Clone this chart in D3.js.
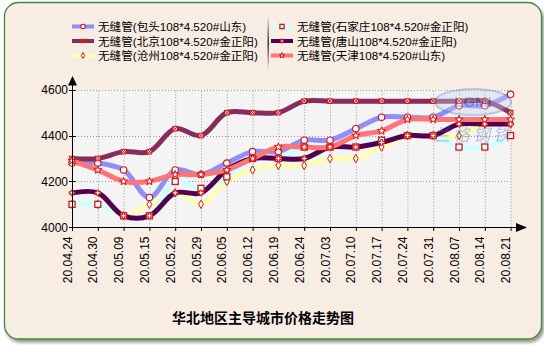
<!DOCTYPE html>
<html><head><meta charset="utf-8">
<script src="https://cdn.jsdelivr.net/npm/d3@7/dist/d3.min.js"></script>
<style>html,body{margin:0;padding:0;background:#fff;}svg{display:block;}</style>
</head><body>
<svg id="c" width="544" height="345"></svg>
<script>
const dates = ["20.04.24","20.04.30","20.05.09","20.05.15","20.05.22","20.05.29","20.06.05","20.06.12","20.06.19","20.06.24","20.07.03","20.07.10","20.07.17","20.07.24","20.07.31","20.08.07","20.08.14","20.08.21"];
const yTicks = [4000, 4200, 4400, 4600];
const seriesNames = ["无缝管(包头108*4.520#山东)","无缝管(北京108*4.520#金正阳)","无缝管(沧州108*4.520#金正阳)","无缝管(石家庄108*4.520#金正阳)","无缝管(唐山108*4.520#金正阳)","无缝管(天津108*4.520#山东)"];
const baotou       = [4280,4280,4250,4130,4250,4230,4280,4330,4330,4380,4380,4430,4480,4480,4480,4530,4530,4580];
const beijing      = [4300,4300,4330,4330,4430,4400,4500,4500,4500,4550,4550,4550,4550,4550,4550,4550,4550,4500];
const cangzhou     = [4100,4100,4050,4100,4150,4100,4200,4250,4270,4270,4300,4300,4350,4400,4400,4400,4450,4450];
const shijiazhuang = [4100,4100,4050,4050,4200,4170,4220,4300,4300,4350,4350,4350,4380,4400,4400,4350,4350,4400];
const tangshan     = [4150,4150,4050,4050,4150,4150,4250,4300,4300,4300,4350,4350,4370,4400,4400,4450,4450,4450];
const tianjin      = [4290,4250,4200,4200,4230,4230,4250,4300,4350,4350,4350,4400,4420,4470,4470,4470,4470,4470];
const title = "华北地区主导城市价格走势图";

const styles = [
  {color:"#8e8eff", marker:"circle"},
  {color:"#862d5c", marker:"boxx"},
  {color:"#ffffb4", marker:"diamond"},
  {color:"#ccffff", marker:"square"},
  {color:"#52004f", marker:"cross"},
  {color:"#ff7575", marker:"star"}
];
const values = [baotou, beijing, cangzhou, shijiazhuang, tangshan, tianjin];

const svg = d3.select("#c");
const defs = svg.append("defs");
const f = defs.append("filter").attr("id","sh").attr("x","-5%").attr("y","-5%").attr("width","112%").attr("height","115%");
f.append("feDropShadow").attr("dx",2).attr("dy",3).attr("stdDeviation",1.5).attr("flood-color","#555").attr("flood-opacity",0.6);
const lg = defs.append("linearGradient").attr("id","sep").attr("x1",0).attr("x2",0).attr("y1",0).attr("y2",1);
lg.append("stop").attr("offset","0%").attr("stop-color","#f8ede3");
lg.append("stop").attr("offset","50%").attr("stop-color","#333");
lg.append("stop").attr("offset","100%").attr("stop-color","#f8ede3");

svg.append("rect").attr("x",4.5).attr("y",2.5).attr("width",537).attr("height",336.5).attr("rx",14)
  .attr("fill","#f8ede3").attr("stroke","#3e8a3a").attr("stroke-width",1.3).attr("filter","url(#sh)");

const x = d3.scalePoint().domain(dates).range([72, 510.6]);
const y = d3.scaleLinear().domain([4000, 4600]).range([227.3, 89.7]);

// plot bg
svg.append("rect").attr("x",72).attr("y",y(4600)).attr("width",x(dates[dates.length-1])-72).attr("height",y(4000)-y(4600)).attr("fill","#f4f4f4");

// grid
const grid = svg.append("g").attr("stroke","#999").attr("stroke-width",1).attr("stroke-dasharray","1,2");
dates.forEach((d,i)=>{ if(i>0) grid.append("line").attr("x1",x(d)+0.5).attr("x2",x(d)+0.5).attr("y1",y(4000)).attr("y2",y(4600)); });
yTicks.forEach(t=>{ if(t>4000) grid.append("line").attr("x1",72).attr("x2",x(dates[dates.length-1])).attr("y1",Math.round(y(t))+0.5).attr("y2",Math.round(y(t))+0.5); });

// lines
const line = d3.line().x((d,i)=>x(dates[i])).y(d=>y(d)).curve(d3.curveCatmullRom.alpha(0.5));
values.forEach((vals,k)=>{
  svg.append("path").datum(vals).attr("d",line).attr("fill","none").attr("stroke",styles[k].color)
    .attr("stroke-width",5).attr("stroke-linejoin","round").attr("stroke-linecap","round");
});

function marker(g, type, cx, cy, s){
  s = s || 1;
  const red = "#dd1111";
  if(type==="circle") g.append("circle").attr("cx",cx).attr("cy",cy).attr("r",3.2*s).attr("fill","#fff").attr("stroke",red).attr("stroke-width",1.1);
  else if(type==="square") g.append("rect").attr("x",cx-3*s).attr("y",cy-3*s).attr("width",6*s).attr("height",6*s).attr("fill","#fff").attr("stroke",red).attr("stroke-width",1.3);
  else if(type==="boxx"){
    const h = 2.3*s;
    g.append("rect").attr("x",cx-h).attr("y",cy-h).attr("width",2*h).attr("height",2*h).attr("fill","#fff").attr("stroke",red).attr("stroke-width",1);
    g.append("path").attr("d",`M${cx-h},${cy-h}L${cx+h},${cy+h}M${cx+h},${cy-h}L${cx-h},${cy+h}`).attr("stroke",red).attr("stroke-width",1);
  }
  else if(type==="diamond") g.append("path").attr("d",d3.symbol(d3.symbolDiamond,20*s*s)()).attr("transform",`translate(${cx},${cy})`).attr("fill","#fff").attr("stroke",red).attr("stroke-width",1);
  else if(type==="cross") g.append("path").attr("d",d3.symbol(d3.symbolCross,18*s*s)()).attr("transform",`translate(${cx},${cy})`).attr("fill","#fff").attr("stroke",red).attr("stroke-width",1);
  else if(type==="star") g.append("path").attr("d",d3.symbol(d3.symbolStar,20*s*s)()).attr("transform",`translate(${cx},${cy})`).attr("fill","#fff").attr("stroke",red).attr("stroke-width",1);
}
const mg = svg.append("g");
values.forEach((vals,k)=>{ vals.forEach((v,i)=>marker(mg, styles[k].marker, x(dates[i]), y(v))); });

// watermark
const wm = svg.append("g").attr("opacity",0.38);
wm.append("ellipse").attr("cx",473).attr("cy",102).attr("rx",38).attr("ry",13).attr("fill","#c9d6ec").attr("stroke","#5a7fc0").attr("stroke-width",2);
wm.append("text").attr("x",473).attr("y",107).attr("text-anchor","middle").attr("font-family","Liberation Sans,Arial").attr("font-weight","bold").attr("font-size",15).attr("fill","#4a70b8").text("LGMI");
wm.append("text").attr("x",473).attr("y",141).attr("text-anchor","middle").attr("font-family","Noto Sans CJK SC").attr("font-style","italic").attr("font-size",17).attr("fill","#4a70b8").attr("letter-spacing",3).text("兰格钢铁");

// axes
const ax = svg.append("g").attr("stroke","#000").attr("stroke-width",1);
ax.append("line").attr("x1",72.5).attr("x2",72.5).attr("y1",227.5).attr("y2",84);
ax.append("line").attr("x1",72).attr("x2",517).attr("y1",227.5).attr("y2",227.5);
svg.append("path").attr("d","M72.5,76L68,85.5L77,85.5Z").attr("fill","#000");
svg.append("path").attr("d","M527,227.5L516,223L516,232Z").attr("fill","#000");
dates.forEach(d=>ax.append("line").attr("x1",x(d)+0.5).attr("x2",x(d)+0.5).attr("y1",227.5).attr("y2",231));
yTicks.forEach(t=>ax.append("line").attr("x1",69).attr("x2",76).attr("y1",Math.round(y(t))+0.5).attr("y2",Math.round(y(t))+0.5));

const fam = "Liberation Sans, Arial, 'Noto Sans CJK SC', sans-serif";
svg.append("g").selectAll("text").data(yTicks).join("text")
  .attr("x",68).attr("y",t=>y(t)+4.5).attr("text-anchor","end").attr("font-family",fam).attr("font-size",12).attr("fill","#000").text(t=>t);
svg.append("g").selectAll("text").data(dates).join("text")
  .attr("transform",d=>`translate(${x(d)-0.5},236.5) rotate(-90)`).attr("text-anchor","end")
  .attr("font-family",fam).attr("font-size",12).attr("fill","#000").text(d=>d);

// title
svg.append("text").attr("x",263).attr("y",323).attr("text-anchor","middle").attr("font-family","'Noto Sans CJK SC', sans-serif")
  .attr("font-weight","bold").attr("font-size",14).attr("fill","#000").text(title);

// legend
const legPos = [[72,26.5],[72,41],[72,55.5],[271,26.5],[271,41],[271,55.5]];
const leg = svg.append("g");
seriesNames.forEach((n,k)=>{
  const [lx,ly] = legPos[k];
  leg.append("line").attr("x1",lx).attr("x2",lx+22).attr("y1",ly).attr("y2",ly).attr("stroke",styles[k].color).attr("stroke-width",4);
  marker(leg, styles[k].marker, lx+11, ly, 0.7);
  leg.append("text").attr("x",lx+26).attr("y",ly+4.5).attr("font-family",fam).attr("font-size",11.6).attr("fill","#000").text(n);
});
svg.append("rect").attr("x",267.5).attr("y",16).attr("width",1.5).attr("height",54).attr("fill","url(#sep)");
</script>
</body></html>
